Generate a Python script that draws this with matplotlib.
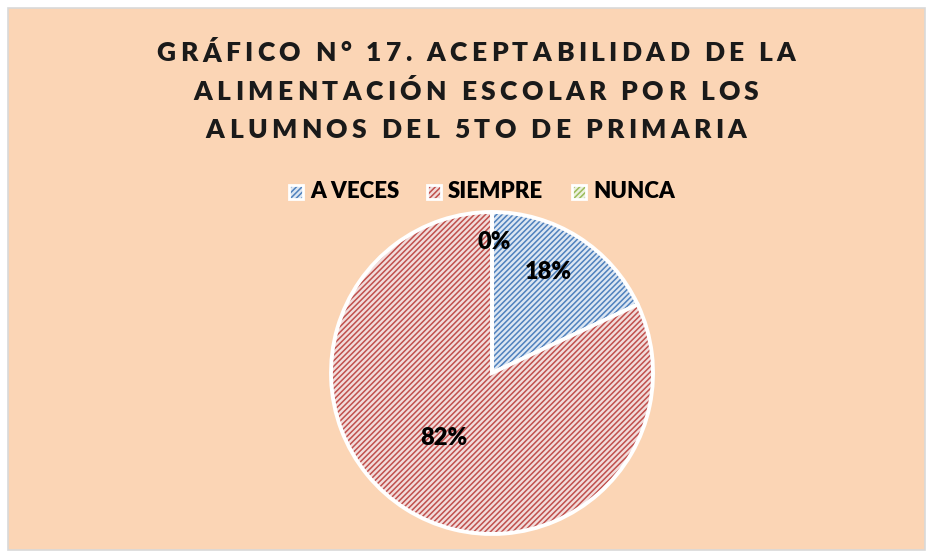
import matplotlib
matplotlib.use('Agg')
import matplotlib.pyplot as plt
from matplotlib.patches import Rectangle
from matplotlib.font_manager import FontProperties
from matplotlib.textpath import TextPath

plt.rcParams['hatch.linewidth'] = 1.1

labels = ['A VECES', 'SIEMPRE', 'NUNCA']
values = [18, 82, 0]
pct_text = ['18%', '82%', '0%']
title_lines = ['GRÁFICO N° 17. ACEPTABILIDAD DE LA',
               'ALIMENTACIÓN ESCOLAR POR LOS',
               'ALUMNOS DEL 5TO DE PRIMARIA']

face_colors = ['#DCE6F2', '#F2DCDB', '#EBF1DE']
hatch_colors = ['#4F81BD', '#C0504D', '#9BBB59']
bg = '#FBD5B5'

fig = plt.figure(figsize=(9.33, 5.58), dpi=100)
fig.patch.set_facecolor('white')
fig.patches.append(Rectangle((8 / 933, 8 / 558), 917 / 933, 542 / 558,
                             transform=fig.transFigure, facecolor=bg,
                             edgecolor='#D9D9D9', linewidth=1.2, zorder=-5))

# title with letter spacing, placed char by char
fp = FontProperties(family='Lato', weight='heavy', size=19)
spacing = 4.4
bar_w = TextPath((0, 0), '||', prop=fp).get_extents().width
for i, line in enumerate(title_lines):
    adv = [TextPath((0, 0), '|' + ch + '|', prop=fp).get_extents().width - bar_w
           for ch in line]
    adv = [a * 100 / 72 for a in adv]
    total = sum(adv) + spacing * (len(line) - 1)
    x = 476 - total / 2
    y = 558 - (53 + i * 38.5)
    for ch, a in zip(line, adv):
        fig.text(x / 933, y / 558, ch, fontproperties=fp, color='#1A1A1A',
                 ha='left', va='center')
        x += a + spacing

ax = fig.add_axes([(492 - 161) / 933, (558 - 373 - 161) / 558, 322 / 933, 322 / 558])
ax.set_facecolor('none')
wedges, _ = ax.pie(values, startangle=90, counterclock=False,
                   colors=face_colors,
                   wedgeprops=dict(edgecolor='white', linewidth=2.8))
for w, hc in zip(wedges, hatch_colors):
    w.set_hatch('//////')
    w._hatch_color = matplotlib.colors.to_rgba(hc)
ax.set_xlim(-1, 1)
ax.set_ylim(-1, 1)
ax.set_aspect('equal')
ax.axis('off')

# percentage labels
lbl_pos = [(548, 272), (444, 438), (494, 242)]
for t, (px, py) in zip(pct_text, lbl_pos):
    fig.text(px / 933, 1 - py / 558, t, family='Lato', weight='heavy',
             fontsize=17, ha='center', va='center', color='black')

# legend
leg_x = [296, 434, 579]
for lab, fc, hc, lx in zip(labels, face_colors, hatch_colors, leg_x):
    sq = Rectangle(((lx - 7) / 933, (558 - 192 - 7) / 558), 14 / 933, 14 / 558,
                   transform=fig.transFigure, facecolor=fc, edgecolor='white',
                   linewidth=2, hatch='//////')
    sq._hatch_color = matplotlib.colors.to_rgba(hc)
    fig.patches.append(sq)
    fig.text((lx + 14) / 933, 1 - 192 / 558, lab, family='Lato', weight='heavy',
             fontsize=16, ha='left', va='center', color='black')

fig.savefig('out.png', dpi=100, facecolor=fig.get_facecolor())
